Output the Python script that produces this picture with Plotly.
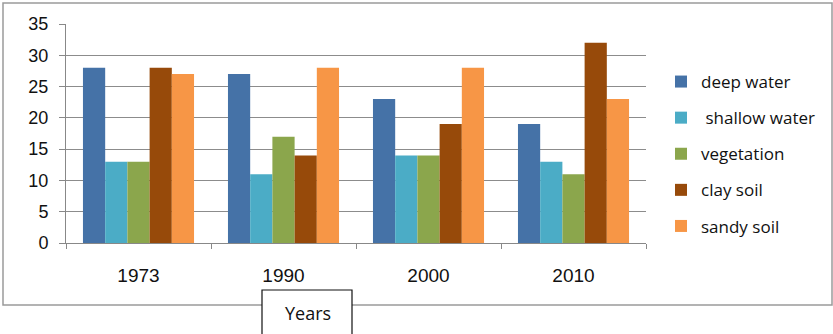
import plotly.graph_objects as go

years = ["1973", "1990", "2000", "2010"]
series_names = ["deep water", " shallow water", "vegetation", "clay soil", "sandy soil"]
deep_water = [28, 27, 23, 19]
shallow_water = [13, 11, 14, 13]
vegetation = [13, 17, 14, 11]
clay_soil = [28, 14, 19, 32]
sandy_soil = [27, 28, 28, 23]
series_values = [deep_water, shallow_water, vegetation, clay_soil, sandy_soil]
colors = ["#4572A7", "#4BACC6", "#8BA64C", "#974A0A", "#F79646"]
y_ticks = [0, 5, 10, 15, 20, 25, 30, 35]

fig = go.Figure()
for i, (name, vals, col) in enumerate(zip(series_names, series_values, colors)):
    fig.add_trace(go.Bar(x=years, y=vals, name=name, marker=dict(color=col, line=dict(width=0)),
                         legendgroup=str(i)))

W, H = 833, 334
L, R, T, B = 66, 187, 24, 91
pw, ph = W - L - R, H - T - B

def px(x):
    return (x - L) / pw

def py(y):
    return (H - B - y) / ph

fig.update_layout(
    width=W, height=H,
    margin=dict(l=L, r=R, t=T, b=B),
    paper_bgcolor="white", plot_bgcolor="white",
    barmode="group", bargap=0.234, bargroupgap=0,
    font=dict(family="Liberation Sans, Arial", size=18, color="#111"),
    legend=dict(x=px(661), y=py(64), xanchor="left", yanchor="top",
                font=dict(family="Open Sans", size=17, color="#111"),
                tracegroupgap=11, itemwidth=30, bgcolor="rgba(0,0,0,0)"),
    xaxis=dict(showgrid=False, ticks="outside", tickson="boundaries", ticklen=5,
               tickcolor="#888", showline=True, linecolor="#888", linewidth=1,
               ticklabelstandoff=15, tickfont=dict(size=19)),
    yaxis=dict(range=[0, 35], tickvals=y_ticks, showgrid=True, gridcolor="#8c8c8c",
               gridwidth=1, ticks="outside", ticklen=6, tickcolor="#888",
               showline=True, linecolor="#888", zeroline=False, ticklabelstandoff=7,
               tickfont=dict(size=18)),
    shapes=[
        dict(type="rect", xref="paper", yref="paper", x0=px(3), x1=px(832), y0=py(305), y1=py(3),
             line=dict(color="#9a9a9a", width=1.5), layer="below"),
        dict(type="rect", xref="paper", yref="paper", x0=px(262), x1=px(352), y0=py(345), y1=py(290),
             line=dict(color="#111", width=1.2), fillcolor="white", layer="above"),
    ],
    annotations=[
        dict(text="Years", xref="paper", yref="paper", x=px(308), y=py(313), showarrow=False,
             font=dict(family="Open Sans", size=18, color="#111"), xanchor="center", yanchor="middle"),
    ],
)

fig.write_html("out.html")
